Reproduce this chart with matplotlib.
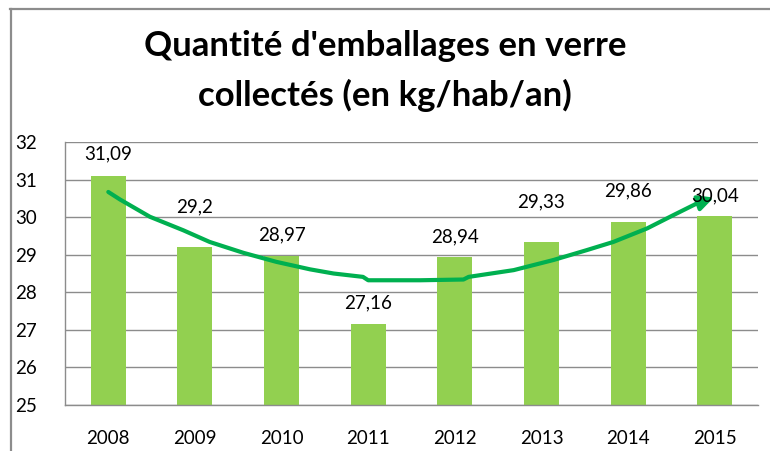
import matplotlib
matplotlib.use("Agg")
import matplotlib.pyplot as plt
from matplotlib.lines import Line2D

years = ["2008", "2009", "2010", "2011", "2012", "2013", "2014", "2015"]
values = [31.09, 29.2, 28.97, 27.16, 28.94, 29.33, 29.86, 30.04]
value_labels = ["31,09", "29,2", "28,97", "27,16", "28,94", "29,33", "29,86", "30,04"]

# hand-drawn trend curve (category index, value)
trend_x = [0.0, 0.135, 0.48, 0.866, 1.17, 1.56, 1.94, 2.33, 2.60, 2.94, 3.00,
           3.60, 4.10, 4.16, 4.68, 5.14, 5.52, 5.83, 6.22, 6.52, 6.79]
trend_y = [30.67, 30.47, 30.01, 29.65, 29.34, 29.05, 28.81, 28.61, 28.50, 28.41, 28.32,
           28.32, 28.34, 28.41, 28.59, 28.86, 29.12, 29.34, 29.70, 30.05, 30.36]
arrow_tip = (6.99, 30.52)

y_ticks = [25, 26, 27, 28, 29, 30, 31, 32]

# label offsets above bar tops (pixels) - styling
label_offsets = [22, 40, 21, 21, 20, 40, 32, 20]

FONT = "Lato"
plt.rcParams['font.family'] = [FONT, 'DejaVu Sans']

fig = plt.figure(figsize=(7.7, 4.51), dpi=100)
ax = fig.add_axes([65 / 770, 1 - 405 / 451, (758 - 65) / 770, (405 - 142) / 451])

x = list(range(len(years)))
ax.bar(x, values, width=0.404, color="#92D050", zorder=2)

ax.set_ylim(25, 32)
ax.set_xlim(-0.5, len(years) - 0.5)
ax.set_yticks(y_ticks)
ax.set_yticklabels([str(t) for t in y_ticks])
ax.set_xticks(x)
ax.set_xticklabels(years)
ax.tick_params(axis='both', length=0, labelsize=13.5, colors="#000000")
ax.tick_params(axis='y', pad=20)
ax.tick_params(axis='x', pad=18)
ax.yaxis.grid(True, color="#8C8C8C", linewidth=1.0, zorder=0)
ax.set_axisbelow(True)
for s in ["top", "right"]:
    ax.spines[s].set_visible(False)
for s in ["left", "bottom"]:
    ax.spines[s].set_color("#8C8C8C")
    ax.spines[s].set_linewidth(1.0)

for xi, v, lab, off in zip(x, values, value_labels, label_offsets):
    ax.annotate(lab, (xi, v), xytext=(0, off), textcoords="offset pixels",
                ha="center", va="center", fontsize=13.5, color="#000000", zorder=5)

ax.plot(trend_x, trend_y, color="#00B050", linewidth=3.0, solid_capstyle="round",
        solid_joinstyle="round", zorder=4)
ax.annotate("", xy=arrow_tip, xytext=(trend_x[-1], trend_y[-1]),
            arrowprops=dict(arrowstyle="-|>,head_length=0.9,head_width=0.45",
                            color="#00B050", lw=3.0, shrinkA=0, shrinkB=0),
            zorder=4)

fig.text(385 / 770, 1 - 46 / 451, "Quantité d'emballages en verre",
         ha="center", va="center", fontsize=25, fontweight="bold", color="#000000")
fig.text(385 / 770, 1 - 95 / 451, "collectés (en kg/hab/an)",
         ha="center", va="center", fontsize=25, fontweight="bold", color="#000000")

# figure frame (left and top visible)
fig.add_artist(Line2D([11 / 770, 11 / 770], [0, 1 - 9 / 451], transform=fig.transFigure,
                      color="#8C8C8C", linewidth=1.6))
fig.add_artist(Line2D([10 / 770, 1], [1 - 9 / 451, 1 - 9 / 451], transform=fig.transFigure,
                      color="#8C8C8C", linewidth=1.6))

fig.savefig("out.png", dpi=100)
